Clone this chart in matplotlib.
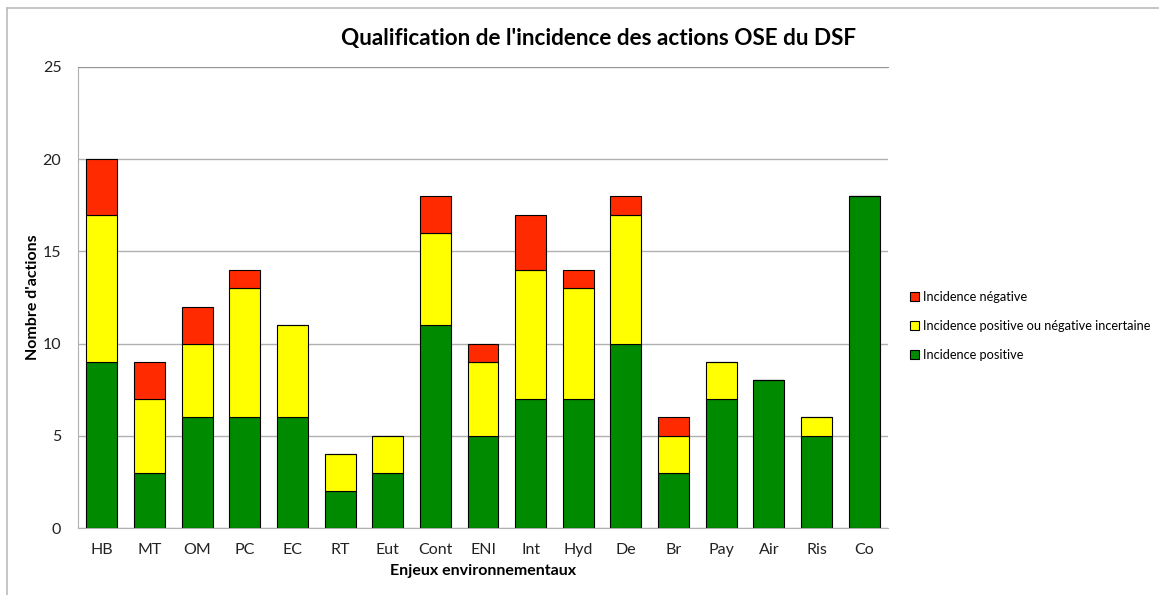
import matplotlib
matplotlib.use("Agg")
from matplotlib import pyplot as plt
from matplotlib.lines import Line2D
from matplotlib.patches import Patch
import numpy as np

plt.rcParams['font.family'] = ['Lato', 'DejaVu Sans']

# enjeux environnementaux
categories = ["HB", "MT", "OM", "PC", "EC", "RT", "Eut", "Cont", "ENI", "Int",
              "Hyd", "De", "Br", "Pay", "Air", "Ris", "Co"]
positive = [9, 3, 6, 6, 6, 2, 3, 11, 5, 7, 7, 10, 3, 7, 8, 5, 18]
uncertain = [8, 4, 4, 7, 5, 2, 2, 5, 4, 7, 6, 7, 2, 2, 0, 1, 0]
negative = [3, 2, 2, 1, 0, 0, 0, 2, 1, 3, 1, 1, 1, 0, 0, 0, 0]

labels = ["Incidence positive", "Incidence positive ou négative incertaine", "Incidence négative"]
colors = ["#008a00", "#ffff00", "#ff2a00"]

fig = plt.figure(figsize=(11.59, 5.95), dpi=100)
ax = fig.add_axes([78 / 1159, 1 - 528 / 595, (888 - 78) / 1159, (528 - 67) / 595])

x = np.arange(len(categories))
w = 0.65
pos = np.array(positive)
unc = np.array(uncertain)
neg = np.array(negative)
ax.bar(x, pos, w, color=colors[0], edgecolor="black", linewidth=0.8, zorder=3)
ax.bar(x, unc, w, bottom=pos, color=colors[1], edgecolor="black", linewidth=0.8, zorder=3)
ax.bar(x, neg, w, bottom=pos + unc, color=colors[2], edgecolor="black", linewidth=0.8, zorder=3)

ax.set_xlim(-0.5, len(categories) - 0.5)
ax.set_ylim(0, 25)
ax.set_yticks([0, 5, 10, 15, 20, 25])
ax.set_xticks(x)
ax.set_xticklabels(categories)
ax.tick_params(axis="both", length=0, labelsize=11.5, colors="#222222")
ax.tick_params(axis="x", pad=11)
ax.tick_params(axis="y", pad=12)
ax.grid(axis="y", color="#b0b0b0", linewidth=1, zorder=0)
ax.spines["right"].set_visible(False)
ax.spines["top"].set_color("#999999")
ax.spines["left"].set_color("#b0b0b0")
ax.spines["bottom"].set_color("#b0b0b0")

ax.set_xlabel("Enjeux environnementaux", fontsize=11.5, fontweight="bold", labelpad=5)
ax.set_ylabel("Nombre d'actions", fontsize=11.5, fontweight="bold", labelpad=2)

fig.text(599 / 1159, 1 - 38 / 595, "Qualification de l'incidence des actions OSE du DSF",
         fontsize=16.2, fontweight="bold", ha="center", va="center")

# legende (ordre inverse, comme dans Excel)
handles = [Patch(facecolor=colors[i], edgecolor="black", linewidth=0.8) for i in (2, 1, 0)]
fig.legend(handles, [labels[i] for i in (2, 1, 0)], loc="center left",
           bbox_to_anchor=(910 / 1159, 1 - 326 / 595), frameon=False, fontsize=9.2,
           handlelength=0.7, handleheight=0.7, handletextpad=0.3, labelspacing=1.3,
           borderaxespad=0, borderpad=0)

# cadre du graphique
fig.add_artist(Line2D([7 / 1159, 7 / 1159], [0, 1 - 8 / 595], transform=fig.transFigure,
                      color="#bbbbbb", linewidth=1.2))
fig.add_artist(Line2D([7 / 1159, 1], [1 - 8 / 595, 1 - 8 / 595], transform=fig.transFigure,
                      color="#bbbbbb", linewidth=1.2))

fig.savefig("out.png", dpi=100)
